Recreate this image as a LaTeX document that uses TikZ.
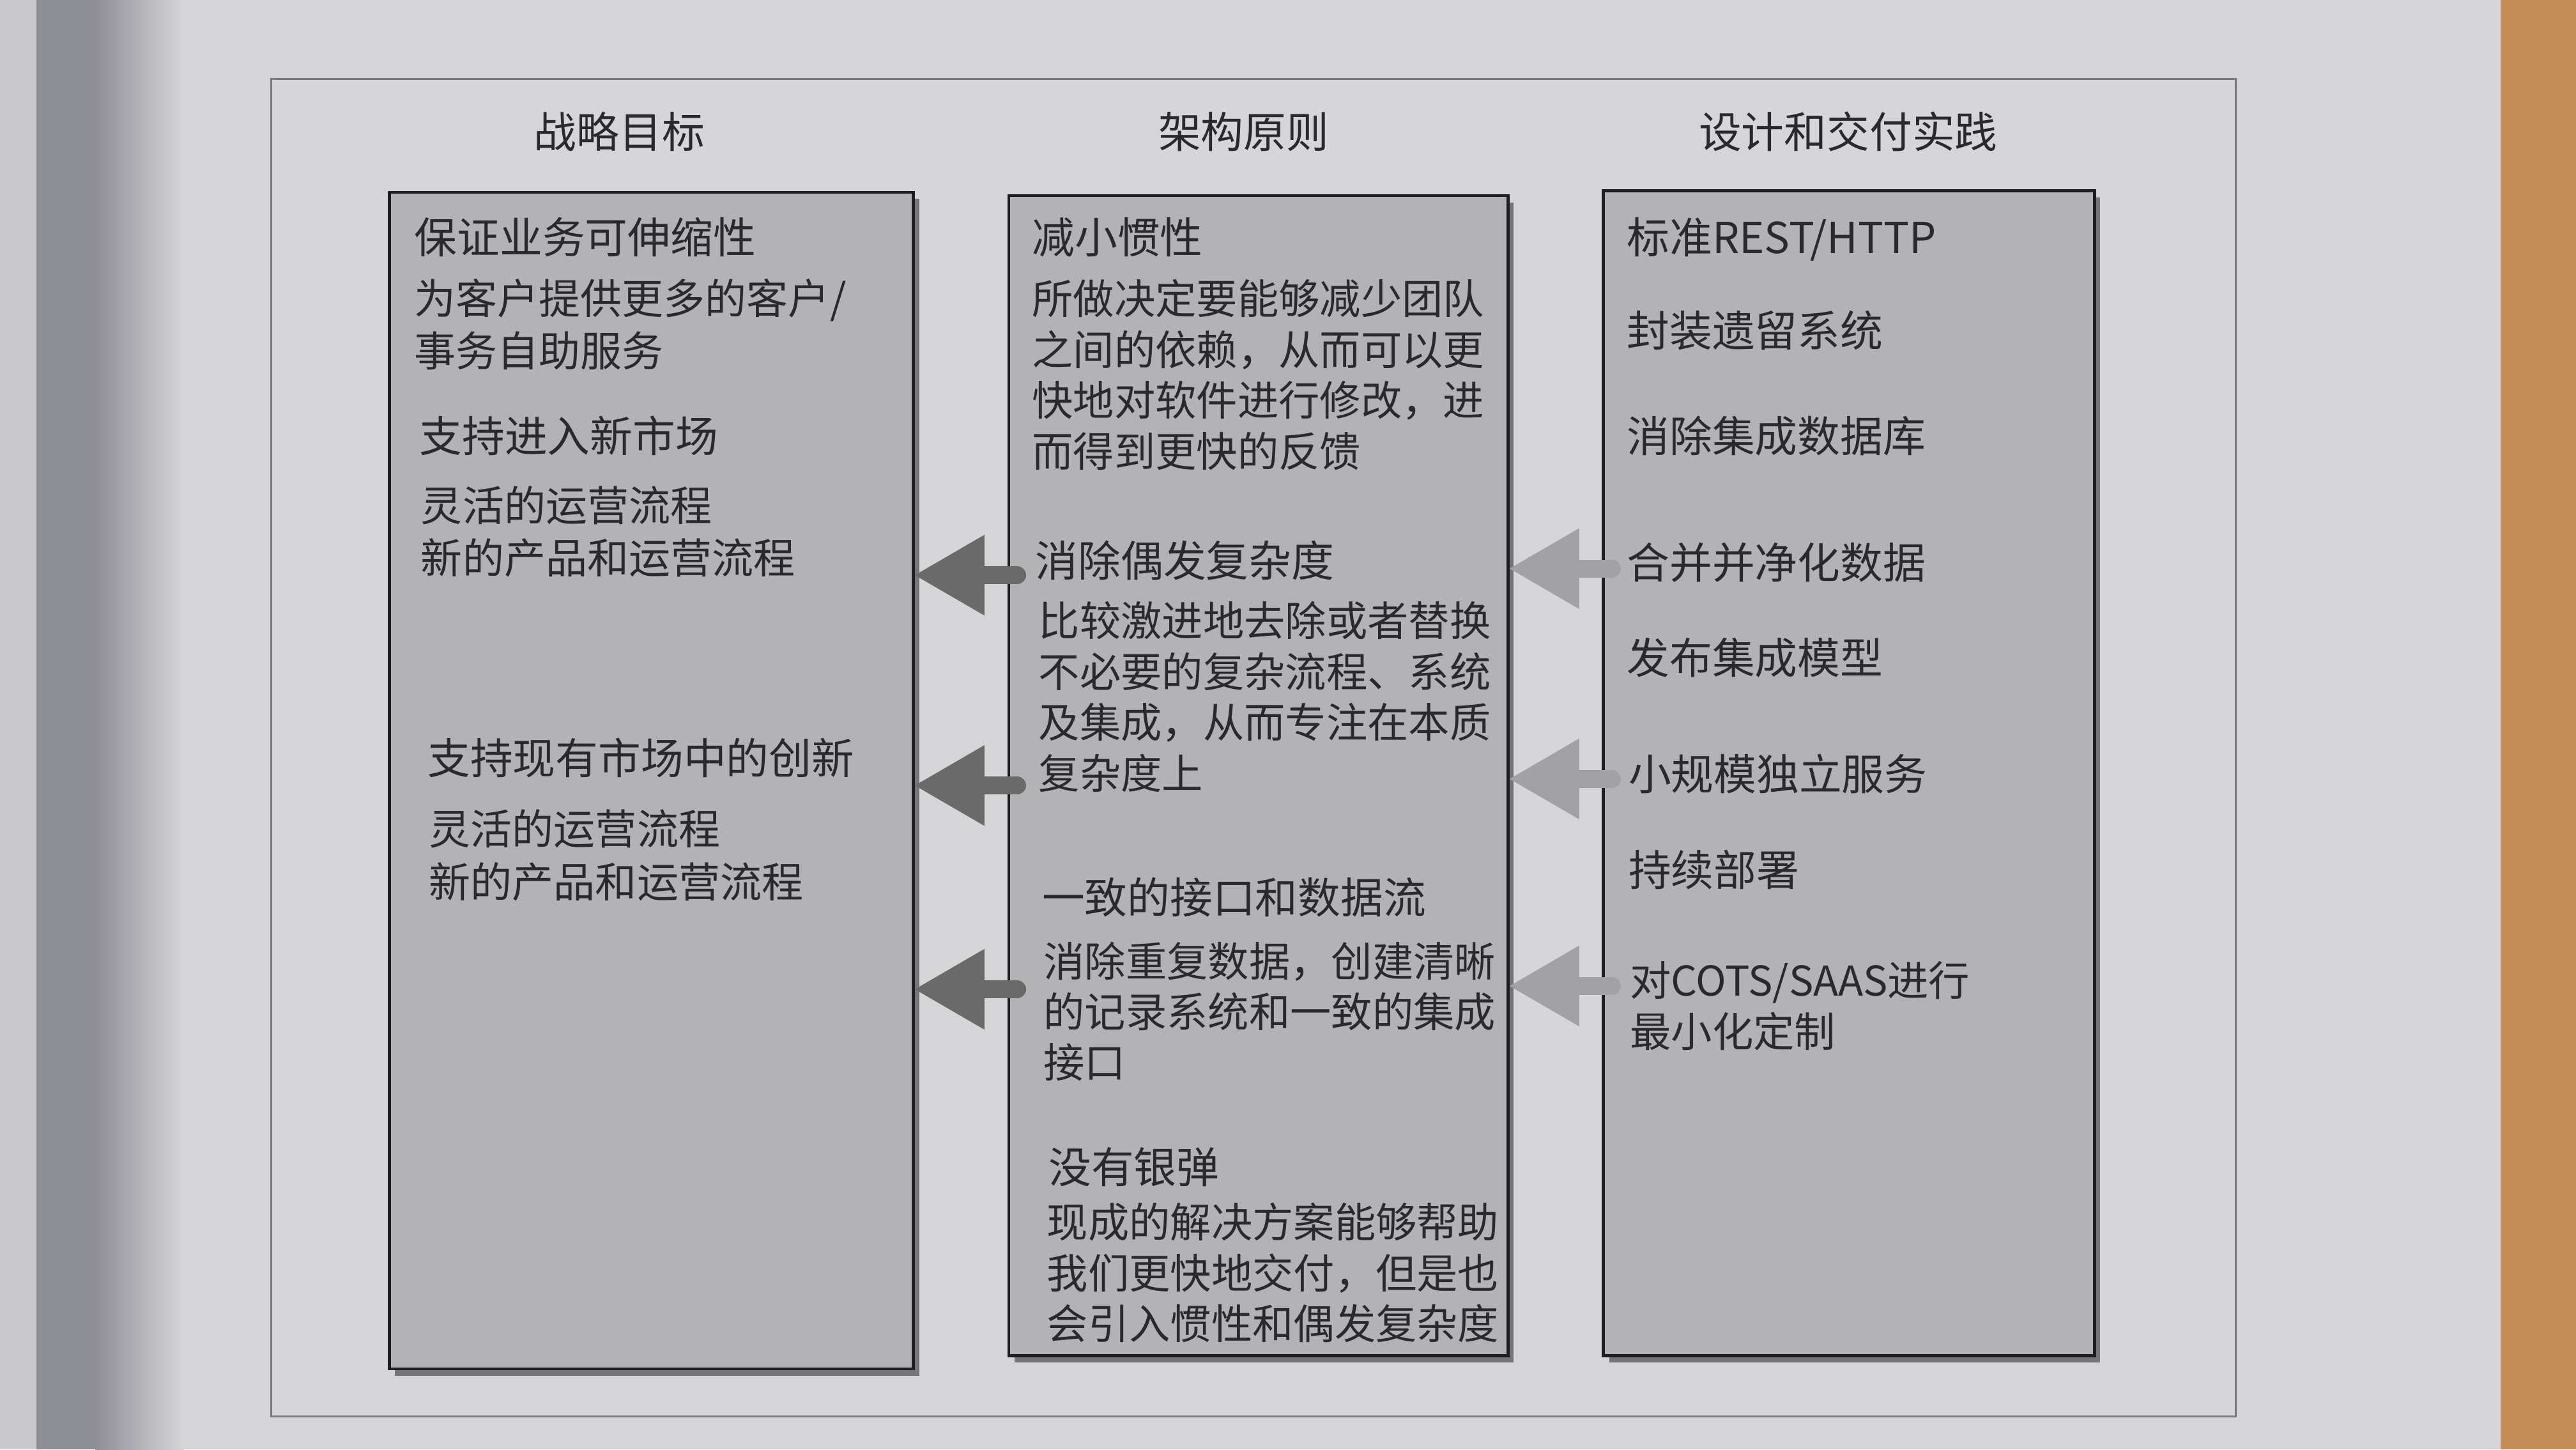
\documentclass[tikz,border=0pt]{standalone}
\usepackage{fontspec}
\setmainfont{Noto Sans CJK SC}
\usetikzlibrary{arrows.meta,fit,shadows,calc}

\definecolor{page}{HTML}{D6D6D9}
\definecolor{gutterlight}{HTML}{C9C9CE}
\definecolor{gutterdark}{HTML}{8E8E95}
\definecolor{wood}{HTML}{C48C58}
\definecolor{framegray}{HTML}{7A7A7E}
\definecolor{boxfill}{HTML}{B3B3B6}
\definecolor{boxline}{HTML}{1E1E22}
\definecolor{ink}{HTML}{2A2A2C}
\definecolor{arrowdark}{HTML}{6B6A6B}
\definecolor{arrowlight}{HTML}{A2A2A4}

\begin{document}
\begin{tikzpicture}[x=0.02571cm, y=-0.02571cm,
  panel/.style={draw=boxline, line width=1.3pt, fill=boxfill, inner sep=0pt,
    drop shadow={shadow xshift=2.5pt, shadow yshift=-3pt, opacity=0.45, fill=black}},
  colhead/.style={font=\fontsize{19}{23}\selectfont, text=ink, inner sep=0pt},
  ttl/.style={font=\fontsize{19}{23}\selectfont, text=ink, anchor=base west, inner sep=0pt},
  % multi-line blocks are placed by the baseline of their last line
  txt/.style={font=\fontsize{18.3}{22.6}\selectfont, text=ink, anchor=base west, inner sep=0pt, align=left},
  ltxt/.style={txt, font=\fontsize{18.5}{23.4}\selectfont},
  fatarrow/.style={line width=8pt, line cap=round,
    -{Triangle[length=31pt, width=36pt, line width=0pt]}},
  darkarrow/.style={fatarrow, draw=arrowdark},
  lightarrow/.style={fatarrow, draw=arrowlight}]

% page, gutter and table edge
\fill[page] (0,0) rectangle (1568,882);
\fill[gutterlight] (0,0) rectangle (22,882);
\fill[gutterdark] (22,0) rectangle (58,882);
\shade[left color=gutterdark, right color=page] (58,0) rectangle (112,882);
\fill[wood] (1522,0) rectangle (1568,882);

% outer frame
\draw[framegray, line width=0.8pt] (165,48) rectangle (1361,862);

% column headings
\node[colhead] (hgoals) at (377,80) {战略目标};
\node[colhead] (hprinc) at (757,80) {架构原则};
\node[colhead] (hpract) at (1125,80) {设计和交付实践};

% the three panels
\node[panel, fit={(237,117) (556,833)}] (goals) {};
\node[panel, fit={(614,119) (918,825)}] (principles) {};
\node[panel, fit={(976,116) (1275,825)}] (practices) {};

% strategic goals
\node[ttl] (g1) at (252,154) {保证业务可伸缩性};
\node[ltxt] (g1b) at (252,223) {为客户提供更多的客户/\\事务自助服务};
\node[ttl] (g2) at (255,275) {支持进入新市场};
\node[ltxt] (g2b) at (256,349) {灵活的运营流程\\新的产品和运营流程};
\node[ttl] (g3) at (260,471) {支持现有市场中的创新};
\node[ltxt] (g3b) at (261,546) {灵活的运营流程\\新的产品和运营流程};

% architecture principles
\node[ttl] (p1) at (628,154) {减小惯性};
\node[txt] (p1b) at (628,284) {所做决定要能够减少团队\\之间的依赖，从而可以更\\快地对软件进行修改，进\\而得到更快的反馈};
\node[ttl] (p2) at (630,351) {消除偶发复杂度};
\node[txt] (p2b) at (632,480) {比较激进地去除或者替换\\不必要的复杂流程、系统\\及集成，从而专注在本质\\复杂度上};
\node[ttl] (p3) at (634,556) {一致的接口和数据流};
\node[txt] (p3b) at (635,656) {消除重复数据，创建清晰\\的记录系统和一致的集成\\接口};
\node[ttl] (p4) at (638,720) {没有银弹};
\node[txt] (p4b) at (637,815) {现成的解决方案能够帮助\\我们更快地交付，但是也\\会引入惯性和偶发复杂度};

% design and delivery practices
\node[ttl] (d1) at (990,154) {标准REST/HTTP};
\node[ttl] (d2) at (990,211) {封装遗留系统};
\node[ttl] (d3) at (990,275) {消除集成数据库};
\node[ttl] (d4) at (990,352) {合并并净化数据};
\node[ttl] (d5) at (990,410) {发布集成模型};
\node[ttl] (d6) at (991,481) {小规模独立服务};
\node[ttl] (d7) at (991,539) {持续部署};
\node[txt] (d8) at (992,637) {对COTS/SAAS进行\\最小化定制};

% arrow rows
\coordinate (la) at (0,350);
\coordinate (lb) at (0,478);
\coordinate (lc) at (0,602);
\coordinate (ra) at (0,346);
\coordinate (rb) at (0,474);
\coordinate (rc) at (0,600);

% principles feed the goals
\draw[darkarrow] ($(principles.west |- la)+(6,0)$) -- (goals.east |- la);
\draw[darkarrow] ($(principles.west |- lb)+(6,0)$) -- (goals.east |- lb);
\draw[darkarrow] ($(principles.west |- lc)+(6,0)$) -- (goals.east |- lc);

% practices feed the principles
\draw[lightarrow] ($(practices.west |- ra)+(6,0)$) -- (principles.east |- ra);
\draw[lightarrow] ($(practices.west |- rb)+(6,0)$) -- (principles.east |- rb);
\draw[lightarrow] ($(practices.west |- rc)+(6,0)$) -- (principles.east |- rc);
\end{tikzpicture}
\end{document}
